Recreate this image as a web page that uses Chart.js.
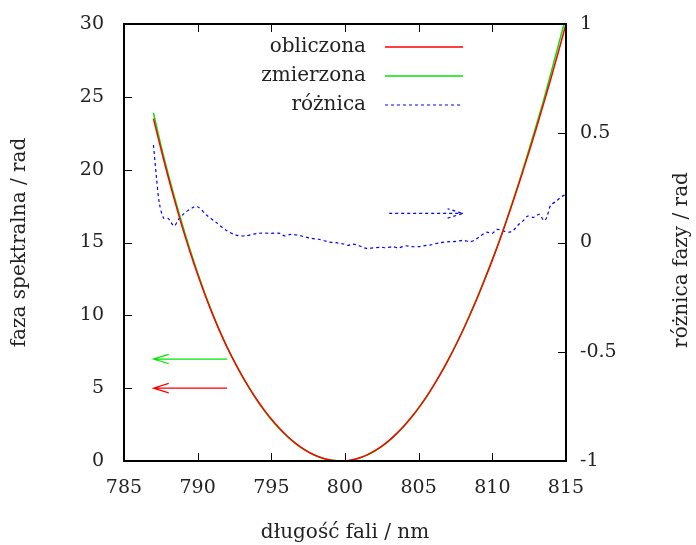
<!DOCTYPE html>
<html>
<head>
<meta charset="utf-8">
<script src="https://cdn.jsdelivr.net/npm/chart.js@4"></script>
<style>
  body { margin: 0; background: #fff; }
  #wrap { width: 696px; height: 545px; }
</style>
</head>
<body>
<div id="wrap"><canvas id="myChart" width="696" height="545"></canvas></div>
<script>
// wavelength grid for the computed / measured phase (nm)
const wavelengths = [
  787, 787.5, 788, 788.5, 789, 789.5, 790, 790.5, 791, 791.5, 792, 792.5,
  793, 793.5, 794, 794.5, 795, 795.5, 796, 796.5, 797, 797.5, 798, 798.5,
  799, 799.5, 800, 800.5, 801, 801.5, 802, 802.5, 803, 803.5, 804, 804.5,
  805, 805.5, 806, 806.5, 807, 807.5, 808, 808.5, 809, 809.5, 810, 810.5,
  811, 811.5, 812, 812.5, 813, 813.5, 814, 814.5, 815,
];
// obliczona (rad)
const obliczona = [
  23.5, 21.45, 19.5, 17.65, 15.9, 14.3, 12.8, 11.4, 10.1, 8.9, 7.8, 6.8,
  5.87, 5.02, 4.24, 3.53, 2.88, 2.3, 1.78, 1.33, 0.95, 0.63, 0.38, 0.19,
  0.07, 0.01, 0.01, 0.08, 0.22, 0.42, 0.69, 1.02, 1.42, 1.88, 2.4, 3.0,
  3.65, 4.37, 5.16, 6.01, 6.93, 7.91, 8.96, 10.07, 11.24, 12.49, 13.79, 15.16,
  16.6, 18.1, 19.65, 21.25, 22.9, 24.6, 26.35, 28.15, 30.0,
];
// zmierzona (rad)
const zmierzona = [
  23.9, 21.7, 19.7, 17.85, 16.1, 14.45, 12.92, 11.48, 10.16, 8.94, 7.82, 6.8,
  5.86, 5.0, 4.2, 3.48, 2.83, 2.26, 1.75, 1.31, 0.93, 0.62, 0.37, 0.19,
  0.07, 0.01, 0.0, 0.07, 0.2, 0.4, 0.67, 1.0, 1.4, 1.86, 2.38, 2.98,
  3.64, 4.36, 5.16, 6.01, 6.94, 7.93, 8.98, 10.11, 11.3, 12.56, 13.85, 15.21,
  16.66, 18.18, 19.77, 21.42, 23.11, 24.84, 26.71, 28.62, 30.5,
];
// różnica (rad, right axis)
const roznicaX = [
  787.0, 787.2, 787.4, 787.7, 788.0, 788.4, 788.7, 789.1, 789.7, 790.0,
  790.6, 791.2, 791.9, 792.6, 793.2, 794.1, 795.0, 795.6, 795.9, 796.3,
  796.8, 797.2, 797.7, 798.2, 798.6, 798.95, 799.4, 799.9, 800.2, 800.55,
  801.0, 801.45, 801.9, 802.4, 802.8, 803.25, 803.6, 804.1, 804.5, 805.0,
  805.5, 805.8, 806.45, 807.1, 807.6, 808.0, 808.5, 808.8, 809.2, 809.6,
  810.0, 810.3, 810.7, 811.1, 811.4, 811.75, 812.1, 812.4, 812.8, 813.2,
  813.5, 813.7, 813.95, 814.3, 814.7, 815.0,
];
const roznicaY = [
  0.446, 0.30, 0.18, 0.11, 0.11, 0.075, 0.106, 0.134, 0.161, 0.164,
  0.126, 0.095, 0.057, 0.034, 0.030, 0.042, 0.042, 0.042, 0.03, 0.037,
  0.034, 0.027, 0.019, 0.015, 0.008, 0.002, -0.001, -0.007, -0.013, -0.007,
  -0.016, -0.027, -0.025, -0.022, -0.024, -0.019, -0.025, -0.015, -0.019, -0.019,
  -0.013, -0.011, -0.001, 0.004, 0.005, 0.010, 0.004, 0.011, 0.03, 0.047,
  0.042, 0.06, 0.054, 0.047, 0.054, 0.080, 0.10, 0.121, 0.115, 0.129,
  0.10, 0.115, 0.17, 0.187, 0.21, 0.22,
];
// arrows: [x0, y0, x1, y1] in data units, head at (x1, y1)
const arrowGreen = [792, 7, 787, 7];
const arrowRed = [792, 5, 787, 5];
const arrowBlue = [803, 0.133, 808, 0.133];

const RED = "#ff0000";
const GREEN = "#00e600";
const BLUE = "#0000ff";
const FONT = "DejaVu Serif";
const tickFont = { family: FONT, size: 19 };
const titleFont = { family: FONT, size: 20 };

function drawArrow(ctx, x0, y0, x1, y1, color, dash) {
  const ang = Math.atan2(y1 - y0, x1 - x0);
  const len = 16, spread = 0.3;
  ctx.save();
  ctx.strokeStyle = color;
  ctx.lineWidth = 1.2;
  ctx.setLineDash(dash || []);
  ctx.beginPath();
  ctx.moveTo(x0, y0);
  ctx.lineTo(x1, y1);
  ctx.moveTo(x1 - len * Math.cos(ang - spread), y1 - len * Math.sin(ang - spread));
  ctx.lineTo(x1, y1);
  ctx.lineTo(x1 - len * Math.cos(ang + spread), y1 - len * Math.sin(ang + spread));
  ctx.stroke();
  ctx.restore();
}

const extras = {
  id: "extras",
  afterDatasetsDraw(chart) {
    const { ctx, chartArea: a, scales } = chart;
    const { x, y, y2 } = scales;

    // arrows
    let g = arrowGreen, r = arrowRed, b = arrowBlue;
    drawArrow(ctx, x.getPixelForValue(g[0]), y.getPixelForValue(g[1]),
      x.getPixelForValue(g[2]), y.getPixelForValue(g[3]), GREEN);
    drawArrow(ctx, x.getPixelForValue(r[0]), y.getPixelForValue(r[1]),
      x.getPixelForValue(r[2]), y.getPixelForValue(r[3]), RED);
    drawArrow(ctx, x.getPixelForValue(b[0]), y2.getPixelForValue(b[1]),
      x.getPixelForValue(b[2]), y2.getPixelForValue(b[3]), BLUE, [3, 3]);

    // frame with inward ticks
    ctx.save();
    ctx.strokeStyle = "#000";
    ctx.lineWidth = 1;
    ctx.beginPath();
    x.ticks.forEach((t) => {
      const px = Math.round(x.getPixelForValue(t.value)) + 0.5;
      ctx.moveTo(px, a.bottom); ctx.lineTo(px, a.bottom - 8);
      ctx.moveTo(px, a.top); ctx.lineTo(px, a.top + 8);
    });
    y.ticks.forEach((t) => {
      const py = Math.round(y.getPixelForValue(t.value)) + 0.5;
      ctx.moveTo(a.left, py); ctx.lineTo(a.left + 8, py);
    });
    y2.ticks.forEach((t) => {
      const py = Math.round(y2.getPixelForValue(t.value)) + 0.5;
      ctx.moveTo(a.right, py); ctx.lineTo(a.right - 8, py);
    });
    ctx.stroke();
    ctx.lineWidth = 2;
    ctx.strokeRect(a.left, a.top, a.right - a.left, a.bottom - a.top);
    ctx.restore();

    // legend (text then sample, gnuplot style)
    const rows = [
      ["obliczona", RED, []],
      ["zmierzona", GREEN, []],
      ["różnica", BLUE, [3, 3]],
    ];
    ctx.save();
    ctx.font = "20px '" + FONT + "'";
    ctx.fillStyle = "#222";
    ctx.textAlign = "right";
    ctx.textBaseline = "middle";
    rows.forEach((row, i) => {
      const ly = 47 + i * 29;
      ctx.fillText(row[0], 366, ly);
      ctx.strokeStyle = row[1];
      ctx.lineWidth = row[2].length ? 1.2 : 1.5;
      ctx.setLineDash(row[2]);
      ctx.beginPath();
      ctx.moveTo(385, ly);
      ctx.lineTo(463, ly);
      ctx.stroke();
    });
    ctx.restore();

    // right axis title, rotated like the left one
    ctx.save();
    ctx.font = "20px '" + FONT + "'";
    ctx.fillStyle = "#222";
    ctx.textAlign = "center";
    ctx.textBaseline = "middle";
    ctx.translate(682, 260);
    ctx.rotate(-Math.PI / 2);
    ctx.fillText("różnica fazy / rad", 0, 0);
    ctx.restore();
  },
};

const chart1 = document.getElementById("myChart");
new Chart(chart1, {
  type: "line",
  data: {
    datasets: [
      {
        label: "obliczona",
        data: wavelengths.map((w, i) => ({ x: w, y: obliczona[i] })),
        borderColor: RED,
        borderWidth: 1.5,
        pointRadius: 0,
        tension: 0.3,
        clip: 0,
        yAxisID: "y",
      },
      {
        label: "zmierzona",
        data: wavelengths.map((w, i) => ({ x: w, y: zmierzona[i] })),
        borderColor: GREEN,
        borderWidth: 1.5,
        pointRadius: 0,
        tension: 0.3,
        clip: 0,
        yAxisID: "y",
      },
      {
        label: "różnica",
        data: roznicaX.map((w, i) => ({ x: w, y: roznicaY[i] })),
        borderColor: BLUE,
        borderWidth: 1.2,
        borderDash: [3, 3],
        pointRadius: 0,
        tension: 0.3,
        clip: 0,
        yAxisID: "y2",
      },
    ],
  },
  options: {
    responsive: false,
    animation: false,
    layout: { padding: { top: 24, left: 0, right: 0, bottom: 0 } },
    plugins: {
      legend: { display: false },
      tooltip: { enabled: false },
    },
    scales: {
      x: {
        type: "linear",
        min: 785,
        max: 815,
        grid: { display: false, drawTicks: false },
        border: { display: false },
        ticks: { stepSize: 5, font: tickFont, color: "#222", padding: 16, maxRotation: 0 },
        title: {
          display: true,
          text: "długość fali / nm",
          font: titleFont,
          color: "#222",
          padding: { top: 0, bottom: 0 },
        },
        afterFit: (scale) => {
          scale.height = 84;
          scale.paddingLeft = 0;
          scale.paddingRight = 0;
        },
      },
      y: {
        type: "linear",
        position: "left",
        min: 0,
        max: 30,
        grid: { display: false, drawTicks: false },
        border: { display: false },
        ticks: { stepSize: 5, font: tickFont, color: "#222", padding: 20 },
        title: {
          display: true,
          text: "faza spektralna / rad",
          font: titleFont,
          color: "#222",
          padding: { top: 8, bottom: 0 },
        },
        afterFit: (scale) => {
          scale.width = 124;
          scale.paddingTop = 0;
          scale.paddingBottom = 0;
        },
      },
      y2: {
        type: "linear",
        position: "right",
        min: -1,
        max: 1,
        grid: { display: false, drawTicks: false },
        border: { display: false },
        ticks: {
          stepSize: 0.5,
          font: tickFont,
          color: "#222",
          padding: 14,
          callback: (value) => `${value}`,
        },
        afterFit: (scale) => {
          scale.width = 130;
          scale.paddingTop = 0;
          scale.paddingBottom = 0;
        },
      },
    },
  },
  plugins: [extras],
});
</script>
</body>
</html>
